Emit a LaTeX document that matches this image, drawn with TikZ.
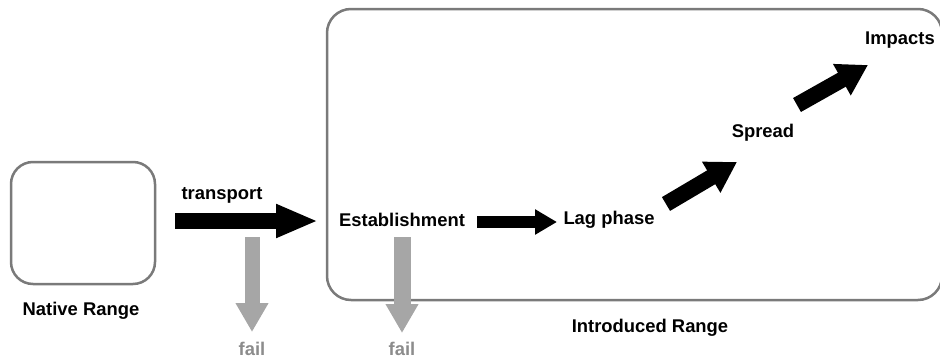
\documentclass[tikz,border=0pt]{standalone}
\usepackage{fontspec}
\setmainfont{Liberation Sans}
\usetikzlibrary{arrows.meta}
\definecolor{boxgray}{HTML}{7A7A7A}
\definecolor{failgray}{HTML}{A6A6A6}
\definecolor{failtext}{HTML}{8C8C8C}
\begin{document}
\begin{tikzpicture}[x=1pt,y=-1pt,
  lbl/.style={font=\fontsize{18.4}{21}\selectfont\bfseries, inner sep=0pt, anchor=center},
  rangebox/.style={draw=boxgray, line width=2.5pt, rounded corners=22pt, inner sep=0pt},
  bigarrow/.style={line width=16pt, -{Triangle[width=31pt,length=42pt]}},
  midarrow/.style={line width=12pt, -{Triangle[width=24pt,length=22pt]}},
  diagarrow/.style={line width=16pt, -{Triangle[width=34pt,length=30pt]}},
  failarrow/.style={failgray, line width=15pt, -{Triangle[width=31pt,length=29pt]}}
]
\useasboundingbox (0,0) rectangle (940,359);
% boxes
\node[rangebox, minimum width=144pt, minimum height=122pt] (native) at (83,223) {};
\draw[draw=boxgray, line width=2.5pt, rounded corners=24pt] (327,9) rectangle (942,300);
% labels
\node[lbl] (natlabel) at (81,311) {Native Range};
\node[lbl] (introlabel) at (650,328) {Introduced Range};
\node[lbl] (translabel) at (222,195) {transport};
\node[lbl] (est) at (402,220) {Establishment};
\node[lbl] (lag) at (609,220) {Lag phase};
\node[lbl] (spread) at (763,133) {Spread};
\node[lbl] (impacts) at (900,40) {Impacts};
\node[lbl, text=failtext] (fail1) at (252,349) {fail};
\node[lbl, text=failtext] (fail2) at (402,349) {fail};
% connector coordinates
\coordinate (t1) at (175,221);
\coordinate (t2) at (318,221);
\coordinate (e1) at (477,222);
\coordinate (e2) at (557,222);
\coordinate (l1) at (666,204);
\coordinate (l2) at (737,162);
\coordinate (s1) at (797,105);
\coordinate (s2) at (868,65);
\coordinate (f1) at (252,237);
\coordinate (f1e) at (252,332);
\coordinate (f2) at (402,237);
\coordinate (f2e) at (402,333);
% arrows
\draw[bigarrow] (t1) -- (t2);
\draw[midarrow] (e1) -- (e2);
\draw[diagarrow] (l1) -- (l2);
\draw[diagarrow] (s1) -- (s2);
\draw[failarrow] (f1) -- (f1e);
\draw[failarrow, line width=17pt] (f2) -- (f2e);
\end{tikzpicture}
\end{document}
